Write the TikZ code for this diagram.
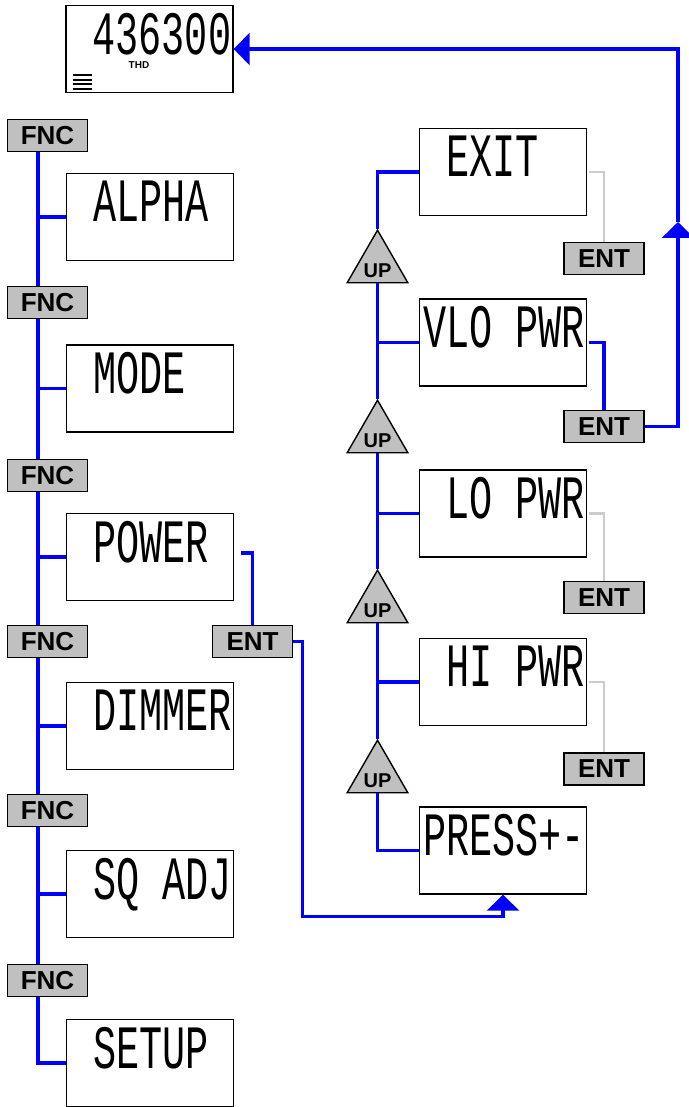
\documentclass[tikz,border=0pt]{standalone}
\usepackage{fontspec}
\setmainfont{Liberation Sans}
\newfontfamily\lcdfont{Liberation Mono}
\usepackage{tikz}
\usetikzlibrary{arrows.meta,positioning,shapes.geometric}
\definecolor{keygray}{RGB}{192,192,192}
\definecolor{offgray}{RGB}{204,204,204}
\newcommand{\lcdtext}[1]{\scalebox{1}[1.6]{#1}}

\begin{document}
\begin{tikzpicture}[
  x=1pt,y=-1pt,
  lcd/.style={draw,line width=1.4pt,minimum width=167pt,minimum height=87pt,inner sep=0pt},
  lcdtxt/.style={anchor=north west,inner sep=0pt,font=\lcdfont\fontsize{38.5}{40}\selectfont},
  key/.style={draw,line width=1.4pt,fill=keygray,minimum width=80pt,minimum height=32pt,inner sep=0pt,font=\fontsize{26}{26}\selectfont\bfseries},
  upkey/.style={draw,line width=1.4pt,fill=keygray,regular polygon,regular polygon sides=3,minimum size=70pt,inner sep=0pt,
    label={[font=\fontsize{20}{20}\selectfont\bfseries,yshift=-6pt]center:UP}},
  wire/.style={draw=blue,line width=3.2pt},
  offwire/.style={draw=offgray,line width=2.8pt},
  arrowhd/.style={-{Triangle[length=16pt,width=32pt]}}
]
  \useasboundingbox (0,0) rectangle (688,1107);

  % start display
  \node[lcd] (home) at (149.5,49) {};
  \node[lcdtxt] (homeVal) at ([xshift=27pt,yshift=-8pt]home.north west) {\lcdtext{436300}};
  \node[inner sep=0pt,font=\fontsize{10}{10}\selectfont\bfseries] (thd) at (139,65) {THD};
  \draw[line width=1.7pt] ([xshift=8pt,yshift=4.5pt]home.south west) -- ++(19,0);
  \draw[line width=1.7pt] ([xshift=8pt,yshift=9pt]home.south west) -- ++(19,0);
  \draw[line width=1.7pt] ([xshift=8pt,yshift=13.5pt]home.south west) -- ++(19,0);
  \draw[line width=1.7pt] ([xshift=8pt,yshift=18pt]home.south west) -- ++(19,0);

  % FNC column
  \node[key] (fncA) at (47.5,135.5) {FNC};
  \node[key] (fncB) at (47.5,302.5) {FNC};
  \node[key] (fncC) at (47.5,475.5) {FNC};
  \node[key] (fncD) at (47.5,641.5) {FNC};
  \node[key] (fncE) at (47.5,810.5) {FNC};
  \node[key] (fncF) at (47.5,980.5) {FNC};
  \coordinate (trunk) at (38,0);

  \node[lcd] (alpha) at (150,217) {};
  \node[lcdtxt] (alphaTxt) at ([xshift=27pt,yshift=-8pt]alpha.north west) {\lcdtext{ALPHA}};
  \node[lcd] (mode) at (150,388.5) {};
  \node[lcdtxt] (modeTxt) at ([xshift=27pt,yshift=-8pt]mode.north west) {\lcdtext{MODE}};
  \node[lcd] (power) at (150,557) {};
  \node[lcdtxt] (powerTxt) at ([xshift=27pt,yshift=-8pt]power.north west) {\lcdtext{POWER}};
  \node[lcd] (dimmer) at (150,726) {};
  \node[lcdtxt] (dimmerTxt) at ([xshift=27pt,yshift=-8pt]dimmer.north west) {\lcdtext{DIMMER}};
  \node[lcd] (sqadj) at (150,894) {};
  \node[lcdtxt] (sqadjTxt) at ([xshift=27pt,yshift=-8pt]sqadj.north west) {\lcdtext{SQ ADJ}};
  \node[lcd] (setup) at (150,1063) {};
  \node[lcdtxt] (setupTxt) at ([xshift=27pt,yshift=-8pt]setup.north west) {\lcdtext{SETUP}};

  \node[key] (entP) at (252.5,641.5) {ENT};

  % power menu
  \node[lcd] (exit) at (503,172) {};
  \node[lcdtxt] (exitTxt) at ([xshift=27pt,yshift=-8pt]exit.north west) {\lcdtext{EXIT}};
  \node[lcd] (vlo) at (503,342.5) {};
  \node[lcdtxt] (vloTxt) at ([xshift=4pt,yshift=-8pt]vlo.north west) {\lcdtext{VLO PWR}};
  \node[lcd] (lo) at (503,513.5) {};
  \node[lcdtxt] (loTxt) at ([xshift=27pt,yshift=-8pt]lo.north west) {\lcdtext{LO PWR}};
  \node[lcd] (hi) at (503,682) {};
  \node[lcdtxt] (hiTxt) at ([xshift=27pt,yshift=-8pt]hi.north west) {\lcdtext{HI PWR}};
  \node[lcd] (press) at (503,850.5) {};
  \node[lcdtxt] (pressTxt) at ([xshift=4pt,yshift=-8pt]press.north west) {\lcdtext{PRESS+-}};

  \node[upkey] (upA) at (377.5,265.2) {};
  \node[upkey] (upB) at (377.5,435.2) {};
  \node[upkey] (upC) at (377.5,605.2) {};
  \node[upkey] (upD) at (377.5,775.2) {};

  \node[key] (entE) at (604,258.5) {ENT};
  \node[key] (entV) at (604,426.5) {ENT};
  \node[key] (entL) at (604,597.5) {ENT};
  \node[key] (entH) at (604,769) {ENT};
  \coordinate (riser) at (678,222);

  % FNC chain
  \draw[wire] (fncA.south -| trunk) -- (fncB.north -| trunk);
  \draw[wire] (fncB.south -| trunk) -- (fncC.north -| trunk);
  \draw[wire] (fncC.south -| trunk) -- (fncD.north -| trunk);
  \draw[wire] (fncD.south -| trunk) -- (fncE.north -| trunk);
  \draw[wire] (fncE.south -| trunk) -- (fncF.north -| trunk);
  \draw[wire] (fncF.south -| trunk) |- (setup.west);
  \draw[wire] (alpha.west) -- (alpha.west -| trunk);
  \draw[wire] (mode.west) -- (mode.west -| trunk);
  \draw[wire] (power.west) -- (power.west -| trunk);
  \draw[wire] (dimmer.west) -- (dimmer.west -| trunk);
  \draw[wire] (sqadj.west) -- (sqadj.west -| trunk);

  % into the power menu
  \draw[wire] ([xshift=7pt,yshift=4pt]power.east) -| (entP.north);
  \draw[wire,arrowhd] (entP.east) -- ++(9,0) |- ([yshift=-22pt]press.south) -- (press.south);

  % UP chain
  \draw[wire] (exit.west) -| (upA.north);
  \draw[wire] (upA.south) -- (upB.north);
  \draw[wire] (upB.south) -- (upC.north);
  \draw[wire] (upC.south) -- (upD.north);
  \draw[wire] (upD.south) |- (press.west);
  \draw[wire] (vlo.west) -- (vlo.west -| upA.south);
  \draw[wire] (lo.west) -- (lo.west -| upB.south);
  \draw[wire] (hi.west) -- (hi.west -| upC.south);

  % ENT choices
  \draw[offwire] ([xshift=2pt]exit.east) -| (entE.north);
  \draw[offwire] ([xshift=2pt]lo.east) -| (entL.north);
  \draw[offwire] ([xshift=2pt]hi.east) -| (entH.north);
  \draw[wire] ([xshift=2pt]vlo.east) -| (entV.north);
  \draw[wire,arrowhd] (entV.east) -| (riser);
  \draw[wire,arrowhd] (riser) |- (home.east);
\end{tikzpicture}
\end{document}
